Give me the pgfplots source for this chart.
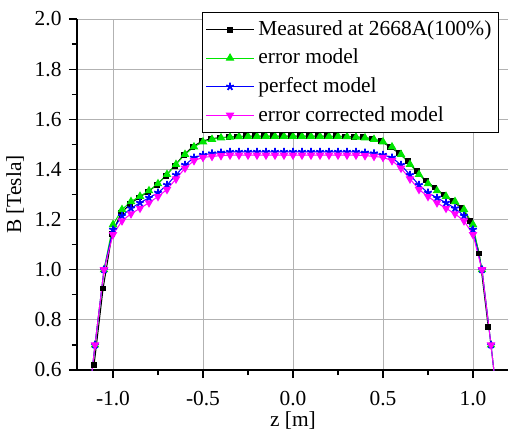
\documentclass[border=0pt]{standalone}
\usepackage{fontspec}
\setmainfont{Liberation Serif}
\usepackage{pgfplots}
\pgfplotsset{compat=1.18}
\definecolor{mgreen}{RGB}{0,230,0}
\definecolor{mmag}{RGB}{255,0,255}
\begin{document}
\fontsize{10.7}{12.8}\selectfont
\begin{tikzpicture}
\begin{axis}[
  scale only axis, width=216pt, height=175.5pt,
  xmin=-1.2, xmax=1.2, ymin=0.6, ymax=2.0,
  axis x line*=bottom, axis y line*=left,
  axis line style={line width=0.6pt},
  xtick={-1,-0.5,0,0.5,1}, xticklabels={-1.0,-0.5,0.0,0.5,1.0},
  minor xtick={-0.75,-0.25,0.25,0.75},
  ytick={0.6,0.8,1.0,1.2,1.4,1.6,1.8,2.0},
  yticklabels={0.6,0.8,1.0,1.2,1.4,1.6,1.8,2.0},
  minor ytick={0.7,0.9,1.1,1.3,1.5,1.7,1.9},
  tick align=outside, major tick length=4pt, minor tick length=2.5pt,
  tick style={black, line width=0.6pt},
  grid=major, major grid style={gray!60, line width=0.5pt},
  xlabel={z [m]}, ylabel={B [Tesla]},
  tick label style={font=\fontsize{10.7}{12.8}\selectfont},
  xticklabel style={yshift=-3pt},
  label style={font=\fontsize{10.7}{12.8}\selectfont},
  ylabel style={yshift=-2pt},
  xlabel style={yshift=4.5pt},
  legend style={at={(1,1)}, anchor=north east, xshift=-5pt, yshift=3.5pt,
    draw=black, line width=0.6pt, fill=white, font=\fontsize{10.7}{12.8}\selectfont,
    legend cell align=left, row sep=1.2pt, inner xsep=1.5pt},
  legend image code/.code={\draw[mark repeat=2,mark phase=2] plot coordinates {(0cm,0cm) (0.42cm,0cm) (0.84cm,0cm)};},
]
\addplot[black, line width=0.5pt, mark=square*, mark size=1.2pt, mark options={solid}] coordinates {
(-1.105,0.62) (-1.055,0.925) (-1.005,1.143) (-0.956,1.225) (-0.906,1.262) (-0.856,1.288)
(-0.806,1.31) (-0.757,1.338) (-0.707,1.375) (-0.657,1.415) (-0.607,1.458) (-0.558,1.49)
(-0.508,1.512) (-0.458,1.522) (-0.408,1.527) (-0.358,1.529) (-0.309,1.531) (-0.259,1.532)
(-0.209,1.533) (-0.159,1.533) (-0.110,1.533) (-0.060,1.533) (-0.010,1.533) (0.040,1.533)
(0.090,1.533) (0.139,1.533) (0.189,1.532) (0.239,1.532) (0.289,1.531) (0.338,1.53)
(0.388,1.528) (0.438,1.523) (0.488,1.513) (0.538,1.49) (0.587,1.466) (0.637,1.433)
(0.687,1.393) (0.737,1.356) (0.786,1.328) (0.836,1.300) (0.886,1.273) (0.936,1.247)
(0.985,1.195) (1.035,1.065) (1.085,0.77)
};
\addlegendentry{Measured at 2668A(100\%)}
\addplot[mgreen, line width=0.5pt, mark=triangle*, mark size=2pt] coordinates {
(-1.15,0.38) (-1.10,0.70) (-1.05,1.00) (-1.00,1.18) (-0.95,1.24) (-0.90,1.272) (-0.85,1.293)
(-0.80,1.315) (-0.75,1.343) (-0.70,1.38) (-0.65,1.42) (-0.60,1.46) (-0.55,1.49) (-0.50,1.51)
(-0.45,1.52) (-0.40,1.526) (-0.35,1.529) (-0.30,1.531) (-0.25,1.532) (-0.20,1.532) (-0.15,1.532)
(-0.10,1.532) (-0.05,1.532) (0,1.532) (0.05,1.532) (0.10,1.532) (0.15,1.532) (0.20,1.532)
(0.25,1.532) (0.30,1.531) (0.35,1.529) (0.40,1.526) (0.45,1.52) (0.50,1.51) (0.55,1.49)
(0.60,1.46) (0.65,1.42) (0.70,1.38) (0.75,1.343) (0.80,1.315) (0.85,1.293) (0.90,1.272)
(0.95,1.24) (1.00,1.18) (1.05,1.00) (1.10,0.70) (1.15,0.38)
};
\addlegendentry{error model}
\addplot[blue, line width=0.5pt, mark=star, mark size=2pt, mark options={line width=0.9pt}] coordinates {
(-1.15,0.38) (-1.10,0.70) (-1.05,1.00) (-1.00,1.16) (-0.95,1.215) (-0.90,1.245) (-0.85,1.267)
(-0.80,1.287) (-0.75,1.307) (-0.70,1.338) (-0.65,1.378) (-0.60,1.418) (-0.55,1.447) (-0.50,1.458)
(-0.45,1.464) (-0.40,1.467) (-0.35,1.47) (-0.30,1.47) (-0.25,1.47) (-0.20,1.47) (-0.15,1.47)
(-0.10,1.47) (-0.05,1.47) (0,1.47) (0.05,1.47) (0.10,1.47) (0.15,1.47) (0.20,1.47)
(0.25,1.47) (0.30,1.47) (0.35,1.47) (0.40,1.467) (0.45,1.464) (0.50,1.458) (0.55,1.447)
(0.60,1.418) (0.65,1.378) (0.70,1.338) (0.75,1.307) (0.80,1.287) (0.85,1.267) (0.90,1.245)
(0.95,1.215) (1.00,1.16) (1.05,1.00) (1.10,0.70) (1.15,0.38)
};
\addlegendentry{perfect model}
\addplot[mmag, line width=0.5pt, mark=triangle*, mark size=2pt, mark options={rotate=180}] coordinates {
(-1.15,0.38) (-1.10,0.70) (-1.05,1.00) (-1.00,1.14) (-0.95,1.195) (-0.90,1.223) (-0.85,1.245)
(-0.80,1.267) (-0.75,1.292) (-0.70,1.32) (-0.65,1.362) (-0.60,1.405) (-0.55,1.435) (-0.50,1.448)
(-0.45,1.452) (-0.40,1.455) (-0.35,1.457) (-0.30,1.457) (-0.25,1.457) (-0.20,1.457) (-0.15,1.457)
(-0.10,1.457) (-0.05,1.457) (0,1.457) (0.05,1.457) (0.10,1.457) (0.15,1.457) (0.20,1.457)
(0.25,1.457) (0.30,1.457) (0.35,1.457) (0.40,1.455) (0.45,1.452) (0.50,1.448) (0.55,1.435)
(0.60,1.405) (0.65,1.362) (0.70,1.32) (0.75,1.292) (0.80,1.267) (0.85,1.245) (0.90,1.223)
(0.95,1.195) (1.00,1.14) (1.05,1.00) (1.10,0.70) (1.15,0.38)
};
\addlegendentry{error corrected model}
\end{axis}
\pgfresetboundingbox
\path ([xshift=-38.5pt,yshift=-32.5pt]current axis.south west) rectangle ([xshift=-0.5pt,yshift=9.5pt]current axis.north east);
\end{tikzpicture}
\end{document}
